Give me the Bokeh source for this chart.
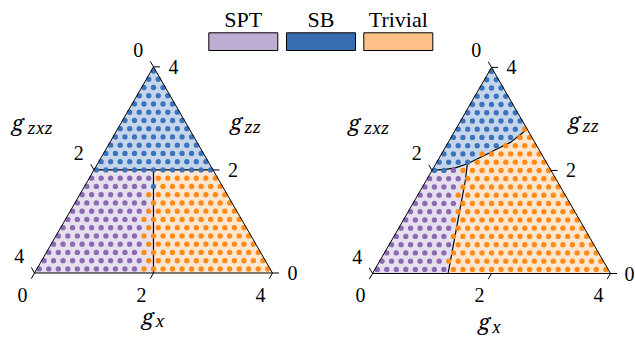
import numpy as np
from bokeh.plotting import figure
from bokeh.models import Range1d
from bokeh.core.properties import value
from bokeh.embed import file_html
from bokeh.resources import INLINE

# ---------------- data ----------------
phases = ["SPT", "SB", "Trivial"]
legend_colors = ["#beaed4", "#386cb0", "#fdc086"]
region_colors = {"SPT": "#e5dfee", "SB": "#c5d6ec", "Trivial": "#fee6cf"}
dot_colors = {"SPT": "#8c69b4", "SB": "#3b74bb", "Trivial": "#ff8c1a"}

tick_values = [0, 2, 4]
tick_labels = ["0", "2", "4"]

# sampling grid of the phase diagram (triangular lattice)
grid_step = 0.16
grid_rows = 25

# left panel: phase boundaries (g_x, g_zz); g_zxz = 4 - g_x - g_zz
left_sb_gx = [0.0, 2.0]
left_sb_gzz = [2.0, 2.0]
left_spt_gx = [1.0, 2.0]
left_spt_gzz = [2.0, 0.0]
# sampled SPT/Trivial data boundary (plot x) versus g_zz
left_data_gzz = [0.0, 1.5, 1.8]
left_data_x = [1.80, 1.85, 1.95]
left_extra_sb_gx = [1.16]
left_extra_sb_gzz = [1.68]

# right panel
right_sb_gx = [0.0, 0.22, 0.37, 0.53, 0.71, 0.89, 1.05, 1.17, 1.20]
right_sb_gzz = [2.0, 2.02, 2.05, 2.13, 2.27, 2.42, 2.55, 2.75, 2.80]
right_spt_gx = [0.53, 0.66, 1.27]
right_spt_gzz = [2.13, 1.80, 0.0]

# ---------------- layout ----------------
W, H = 635, 337
K = 59.5                      # px per unit of coupling
OX_PAGE, OY_PAGE = 34.0, 272.5
S3 = np.sqrt(3) / 2


def px(xp, yp):
    """canvas pixel -> data coordinates"""
    return (xp - OX_PAGE) / K, (OY_PAGE - yp) / K


panel_offset = [(0.0, 0.0), ((372.0 - 34.0) / K, -0.5 / K)]


def tern(gx, gzz, panel):
    gx = np.asarray(gx, dtype=float)
    gzz = np.asarray(gzz, dtype=float)
    ox, oy = panel_offset[panel]
    return gx + gzz / 2 + ox, gzz * S3 + oy


x0, y1 = px(0, 0)
x1, y0 = px(W, H)
p = figure(width=W, height=H, x_range=Range1d(x0, x1), y_range=Range1d(y0, y1),
           x_axis_type=None, y_axis_type=None, min_border=0,
           toolbar_location=None, output_backend="svg",
           outline_line_color=None, background_fill_color="white")
p.grid.visible = False

MATH = value("Noto Serif")
SERIF = value("Liberation Serif")
X_MAX_LABEL = px(629, 0)[0]


def grid_points():
    gx, gzz = [], []
    for j in range(grid_rows):
        for k in range(grid_rows - j):
            gzz.append(grid_step * (j + 0.5))
            gx.append(grid_step * (k + 0.25))
    return np.array(gx), np.array(gzz)


def draw_panel(panel, sb_gx, sb_gzz, spt_gx, spt_gzz, classify):
    sb = list(zip(sb_gx, sb_gzz))
    spt = list(zip(spt_gx, spt_gzz))
    jx = spt[0][0]
    sb_left = [q for q in sb if q[0] < jx - 1e-9]
    sb_right = [q for q in sb if q[0] > jx + 1e-9]
    polys = {
        "SB": sb + [(0.0, 4.0)],
        "SPT": [(0.0, 0.0)] + spt[::-1] + sb_left[::-1],
        "Trivial": [(4.0, 0.0)] + sb_right[::-1] + spt,
    }
    for ph in phases:
        gx, gzz = zip(*polys[ph])
        X, Y = tern(gx, gzz, panel)
        p.patch(X, Y, fill_color=region_colors[ph], line_color=None)

    # boundary lines
    X, Y = tern(sb_gx, sb_gzz, panel)
    p.line(X, Y, line_color="black", line_width=1.2)
    X, Y = tern(spt_gx, spt_gzz, panel)
    p.line(X, Y, line_color="black", line_width=1.2)

    # sampled points
    gx, gzz = grid_points()
    lab = classify(gx, gzz)
    for ph in phases:
        m = lab == ph
        X, Y = tern(gx[m], gzz[m], panel)
        p.scatter(X, Y, size=5.3, fill_color=dot_colors[ph], line_color=None)

    # outline
    X, Y = tern([0, 4, 0, 0], [0, 0, 4, 0], panel)
    p.line(X, Y, line_color="black", line_width=1.0)

    # ticks and tick labels
    L = 6.5 / K
    xs, ys, tx, ty, tt = [], [], [], [], []
    for v, t in zip(tick_values, tick_labels):
        # g_x (bottom)
        X, Y = tern(v, 0, panel)
        xs.append([X, X - 0.5 * L]); ys.append([Y, Y - S3 * L])
        tx.append(X - 12.0 / K); ty.append(Y - 21.5 / K); tt.append(t)
        # g_zz (right)
        X, Y = tern(4 - v, v, panel)
        xs.append([X, X + L]); ys.append([Y, Y])
        tx.append(min(X + 20.0 / K, X_MAX_LABEL)); ty.append(Y); tt.append(t)
        # g_zxz (left)
        X, Y = tern(0, 4 - v, panel)
        xs.append([X, X - 0.5 * L]); ys.append([Y, Y + S3 * L])
        tx.append(X - 15.3 / K); ty.append(Y + 17.0 / K); tt.append(t)
    p.multi_line(xs, ys, line_color="black", line_width=1.0)
    p.text(tx, ty, text=tt, text_font=SERIF, text_font_size="20px",
           text_align="center", text_baseline="middle", text_color="black")


def classify_left(gx, gzz):
    xp = gx + gzz / 2
    thr = np.interp(gzz, left_data_gzz, left_data_x)
    lab = np.where(xp < thr, "SPT", "Trivial").astype(object)
    lab[gzz >= 2.0 - 1e-9] = "SB"
    for ex, ez in zip(left_extra_sb_gx, left_extra_sb_gzz):
        lab[(np.abs(gx - ex) < 1e-6) & (np.abs(gzz - ez) < 1e-6)] = "SB"
    return lab


def classify_right(gx, gzz):
    xp = gx + gzz / 2
    curve = np.interp(gx, right_sb_gx, right_sb_gzz)
    off = np.where(gx < right_spt_gx[0], -0.03, 0.08)
    line_x = np.interp(gzz, right_spt_gzz[::-1],
                       (np.array(right_spt_gx) + np.array(right_spt_gzz) / 2)[::-1])
    lab = np.where(xp < line_x - 0.08, "SPT", "Trivial").astype(object)
    lab[gzz >= curve + off] = "SB"
    return lab


draw_panel(0, left_sb_gx, left_sb_gzz, left_spt_gx, left_spt_gzz, classify_left)
draw_panel(1, right_sb_gx, right_sb_gzz, right_spt_gx, right_spt_gzz, classify_right)

# axis titles: g with italic subscripts (canvas pixel anchors, vertical middles)
axis_titles = [
    # (g left x, g middle y, sub left x, sub middle y, subscript)
    (11.0, 121.0, 27.0, 127.8, "zxz"),
    (229.5, 120.5, 244.0, 126.3, "zz"),
    (141.0, 315.0, 155.0, 320.8, "x"),
    (347.5, 121.0, 363.5, 127.8, "zxz"),
    (567.5, 119.5, 582.0, 125.3, "zz"),
    (477.5, 320.5, 491.5, 326.0, "x"),
]
gx_, gy_, sx_, sy_, st_ = [], [], [], [], []
for a, b, c, d, s in axis_titles:
    X, Y = px(a, b); gx_.append(X); gy_.append(Y)
    X, Y = px(c, d); sx_.append(X); sy_.append(Y); st_.append(s)
p.text(gx_, gy_, text=["g"] * len(gx_), text_font=MATH, text_font_size="22px",
       text_font_style="italic", text_align="left", text_baseline="middle")
p.text(sx_, sy_, text=st_, text_font=MATH, text_font_size="16px",
       text_font_style="italic", text_align="left", text_baseline="middle")

# legend: coloured boxes with labels above
box_left = [208.3, 286.0, 363.3]
box_w, box_top, box_bot = 69.0, 32.3, 50.0
lq_l, lq_r, lq_t, lq_b, lt_x, lt_y = [], [], [], [], [], []
for bl in box_left:
    a, t = px(bl, box_top)
    b, bt = px(bl + box_w, box_bot)
    lq_l.append(a); lq_r.append(b); lq_t.append(t); lq_b.append(bt)
    cx, cy = px(bl + box_w / 2, 19.0)
    lt_x.append(cx); lt_y.append(cy)
p.quad(left=lq_l, right=lq_r, top=lq_t, bottom=lq_b, fill_color=legend_colors,
       line_color="black", line_width=1.0)
p.text(lt_x, lt_y, text=phases, text_font=SERIF, text_font_size="22px",
       text_align="center", text_baseline="middle", text_color="black")

open("out.html", "w").write(file_html(p, INLINE))
